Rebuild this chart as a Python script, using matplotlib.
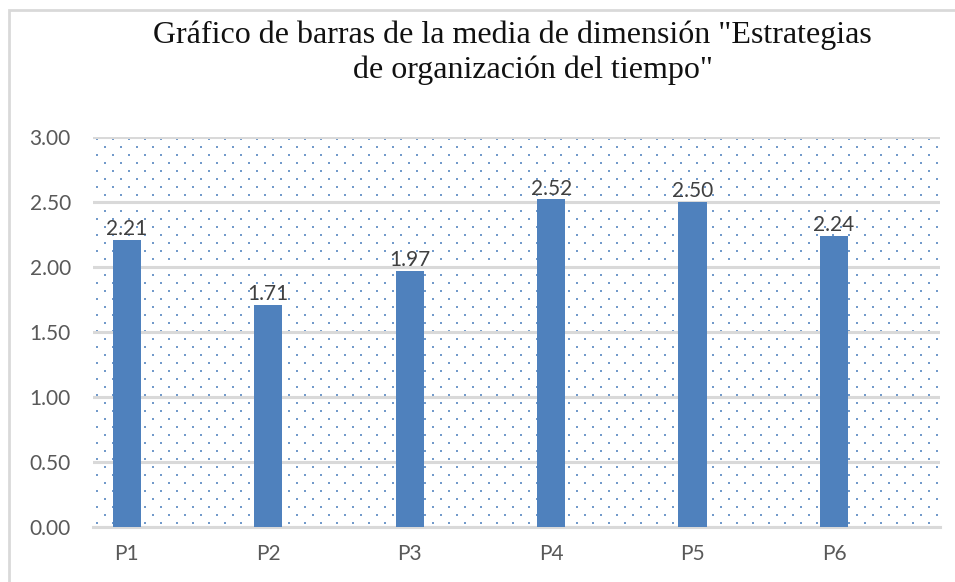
import numpy as np
import matplotlib
matplotlib.use('Agg')
import matplotlib.pyplot as plt
from matplotlib.patches import Rectangle

# ── Data ───────────────────────────────────────────────────────────────────────
categories = ['P1', 'P2', 'P3', 'P4', 'P5', 'P6']
means = [2.21, 1.71, 1.97, 2.52, 2.50, 2.24]
yticks = [0.0, 0.5, 1.0, 1.5, 2.0, 2.5, 3.0]
title_lines = ['Gráfico de barras de la media de dimensión "Estrategias',
               'de organización del tiempo"']

BAR_BLUE = '#4f81bd'
GRID_GREY = '#d9d9d9'
TICK_GREY = '#595959'
LABEL_GREY = '#404040'

W, H = 955, 582
fig = plt.figure(figsize=(W / 100, H / 100), dpi=100)

# plot area in pixel terms: x 93..940, y 137..527
ax = fig.add_axes([93 / W, 1 - 527 / H, (940 - 93) / W, (527 - 137) / H])

# dotted background texture (Excel "10%" pattern): staggered 16 x 8 px lattice
aw, ah = 940 - 93, 527 - 137
pts = []
for r, yy in enumerate(np.arange(4, ah, 8)):
    x0 = 4 if r % 2 == 0 else 12
    for xx in np.arange(x0, aw, 16):
        pts.append((xx / aw, yy / ah))
pts = np.array(pts)
ax.scatter(pts[:, 0], pts[:, 1], s=2.2, marker='s', color=BAR_BLUE,
           alpha=0.8, linewidths=0, transform=ax.transAxes, zorder=0)

x = np.arange(len(categories))
bars = ax.bar(x, means, width=0.2, color=BAR_BLUE, zorder=3)

for xi, val in zip(x, means):
    ax.annotate(f'{val:.2f}', (xi, val), xytext=(0, 0.5), textcoords='offset points',
                ha='center', va='bottom', fontsize=15, family='Lato',
                color=LABEL_GREY, zorder=4)

ax.set_xlim(-0.24, 5.75)
ax.set_ylim(0, 3)
ax.set_yticks(yticks)
ax.set_yticklabels([f'{t:.2f}' for t in yticks])
ax.set_xticks(x)
ax.set_xticklabels(categories)
ax.yaxis.grid(True, color=GRID_GREY, linewidth=2.2, zorder=1)
ax.set_axisbelow(True)
ax.tick_params(length=0, labelsize=15, labelcolor=TICK_GREY)
ax.tick_params(axis='y', pad=16)
ax.tick_params(axis='x', pad=12)
for lbl in ax.get_xticklabels() + ax.get_yticklabels():
    lbl.set_family('Lato')
for side in ['top', 'right', 'left']:
    ax.spines[side].set_visible(False)
ax.spines['bottom'].set_color(GRID_GREY)
ax.spines['bottom'].set_linewidth(2.2)
ax.spines['bottom'].set_zorder(2)

# two-line title, each line centred as in the original
fig.text(512 / W, 1 - 43 / H, title_lines[0], ha='center', va='baseline',
         fontsize=23, family='Liberation Serif', color='#111111')
fig.text(533 / W, 1 - 78 / H, title_lines[1], ha='center', va='baseline',
         fontsize=23, family='Liberation Serif', color='#111111')

# chart border (cropped at right and bottom)
fig.patches.append(Rectangle((9 / W, -0.1), 1.2, 1.1 - 10 / H, transform=fig.transFigure,
                             fill=False, edgecolor=GRID_GREY, linewidth=2))

fig.savefig('out.png', dpi=100, facecolor='white')
